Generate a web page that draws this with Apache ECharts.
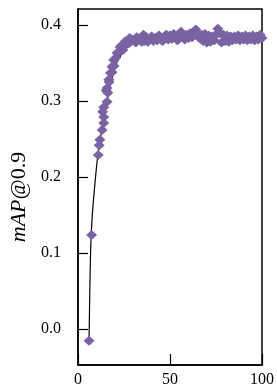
<!DOCTYPE html>
<html><head><meta charset="utf-8">
<script src="https://cdn.jsdelivr.net/npm/echarts@6/dist/echarts.min.js"></script>
<style>html,body{margin:0;padding:0;background:#fff}#c{width:277px;height:392px}</style>
</head><body><div id="c"></div>
<script>
// scatter points (x, mAP@0.9)
const pointX = [6.0, 7.4, 11.0, 11.5, 11.9, 13.1, 14.0, 14.0, 13.4, 14.0, 15.8, 16.2, 15.8, 16.7, 17.6, 18.5, 19.4, 21.2, 22.9, 25.5, 28.1, 31.9, 35.6,
  15.3, 16.9, 18.5, 19.6, 20.6, 22.2, 23.3, 24.4, 26.0, 27.6, 29.7, 31.4, 33.5, 34.6,
  36, 37, 38, 39, 40, 41, 42, 43, 44, 45, 46, 47, 48, 49, 50, 51, 52, 53, 54, 55, 56, 57, 58, 59, 60,
  61, 62, 63, 64, 65, 66, 67, 68, 69, 70, 71, 72, 73, 74, 75, 76, 77, 78, 79, 80,
  81, 82, 83, 84, 85, 86, 87, 88, 89, 90, 91, 92, 93, 94, 95, 96, 97, 98, 99, 100];
const pointY = [-0.015, 0.124, 0.229, 0.242, 0.249, 0.262, 0.271, 0.279, 0.286, 0.292, 0.299, 0.311, 0.317, 0.328, 0.337, 0.345, 0.354, 0.363, 0.371, 0.378, 0.383, 0.384, 0.387,
  0.314, 0.325, 0.338, 0.346, 0.357, 0.364, 0.372, 0.367, 0.374, 0.376, 0.380, 0.377, 0.382, 0.378,
  0.379, 0.384, 0.378, 0.382, 0.385, 0.379, 0.383, 0.380, 0.386, 0.381, 0.379, 0.385, 0.387, 0.381, 0.386, 0.382, 0.388, 0.384, 0.380, 0.387, 0.391, 0.385, 0.381, 0.387, 0.383,
  0.389, 0.384, 0.388, 0.394, 0.388, 0.383, 0.387, 0.379, 0.388, 0.377, 0.386, 0.378, 0.385, 0.380, 0.387, 0.395, 0.389, 0.377, 0.387, 0.379,
  0.386, 0.378, 0.385, 0.380, 0.385, 0.381, 0.386, 0.380, 0.385, 0.381, 0.386, 0.380, 0.385, 0.381, 0.386, 0.380, 0.385, 0.381, 0.387, 0.383];
// fitted curve
const fitX = [6.0, 6.43, 6.97, 7.77, 9.38, 11.0, 13.1, 15.8, 18.5, 21.2, 26.5, 34.6, 50.6, 100];
const fitY = [-0.0145, 0.051, 0.111, 0.150, 0.196, 0.233, 0.264, 0.301, 0.330, 0.351, 0.370, 0.380, 0.384, 0.387];
const yTicks = [0.0, 0.1, 0.2, 0.3, 0.4];
const xTicks = [0, 50, 100];

const FONT = "'Liberation Serif', 'Times New Roman', serif";
const chart = echarts.init(document.getElementById('c'));
chart.setOption({
  animation: false,
  grid: { left: 75, right: 15, top: 9, bottom: 27, show: true, borderColor: '#000', borderWidth: 1.5 },
  xAxis: {
    type: 'value', min: 0, max: 100,
    axisLine: { onZero: false, lineStyle: { color: '#000', width: 1.5 } },
    axisTick: { inside: true, length: 11, lineStyle: { color: '#000', width: 1.2 }, customValues: xTicks },
    axisLabel: { color: '#000', fontFamily: FONT, fontSize: 16, margin: 7, customValues: xTicks },
    splitLine: { show: false }
  },
  yAxis: {
    type: 'value', min: -0.047, max: 0.421,
    name: '{i|mAP}{n|@0.9}', nameLocation: 'middle', nameGap: 48, nameRotate: 90,
    nameTextStyle: { padding: [0, 20, 0, 0], rich: {
      i: { fontFamily: FONT, fontSize: 22, fontStyle: 'italic', color: '#000' },
      n: { fontFamily: FONT, fontSize: 22, color: '#000' } } },
    axisLine: { onZero: false, lineStyle: { color: '#000', width: 1.5 } },
    axisTick: { inside: true, length: 10, lineStyle: { color: '#000', width: 1.2 }, customValues: yTicks },
    axisLabel: { color: '#000', fontFamily: FONT, fontSize: 16, margin: 17, customValues: yTicks,
      formatter: v => v.toFixed(1) },
    splitLine: { show: false }
  },
  series: [
    { type: 'line', data: fitX.map((x, i) => [x, fitY[i]]), smooth: 0.4, showSymbol: false,
      lineStyle: { color: '#000', width: 1.2 }, z: 1 },
    { type: 'scatter', data: pointX.map((x, i) => [x, pointY[i]]), symbol: 'diamond', symbolSize: [11, 10],
      itemStyle: { color: '#7b62a3', opacity: 1 }, z: 2, clip: false }
  ]
});
</script></body></html>
